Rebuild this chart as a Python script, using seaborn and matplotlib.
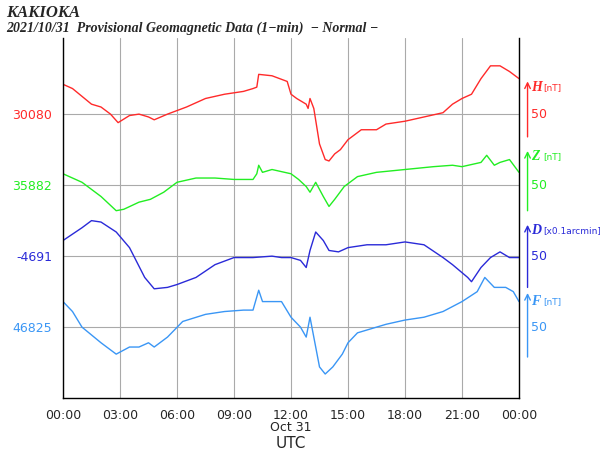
import numpy as np
import pandas as pd
import matplotlib
matplotlib.use('Agg')
import matplotlib.pyplot as plt
import seaborn as sns

# deviations from each trace's baseline (display units, 50 per grid step)
h_t = [0,0.5,1.5,2,2.5,2.9,3.5,4,4.5,4.8,5.5,6.5,7.5,8.5,9.5,10,10.2,10.3,11,11.8,12,12.3,12.8,12.9,13,13.2,13.5,13.8,14,14.3,14.6,15,15.7,16.5,17,18,19,20,20.5,21,21.5,22,22.5,23,23.5,24]
h_v = [21,18,7,5,0,-6,-1,0,-2,-4,0,5,11,14,16,18,19,28,27,23,14,11,7,4,11,4,-21,-32,-33,-28,-25,-18,-11,-11,-7,-5,-2,1,7,11,14,25,34,34,30,25]
z_t = [0,1,2,2.8,3.2,4,4.6,5.3,6,7,8,9,10,10.2,10.3,10.5,11,12,12.4,12.8,13,13.3,13.7,14,14.3,14.8,15.5,16.5,18,19.5,20.5,21,22,22.3,22.7,23,23.5,24]
z_v = [8,2,-8,-18,-17,-12,-10,-5,2,5,5,4,4,8,14,9,11,8,4,-1,-5,2,-8,-15,-10,-1,6,9,11,13,14,13,16,21,14,16,18,9]
d_t = [0,1,1.5,2,2.8,3.5,4.3,4.8,5.5,6,7,8,9,10,11,11.5,12,12.5,12.8,13,13.3,13.7,14,14.5,15,16,17,18,19,20,20.5,21.3,21.5,22,22.5,23,23.5,24]
d_v = [11,20,25,24,17,6,-15,-23,-22,-20,-15,-6,-1,-1,0,-1,-1,-3,-8,4,17,11,4,3,6,8,8,10,8,-1,-6,-15,-18,-8,-1,3,-1,-1]
f_t = [0,0.5,1,2,2.8,3.5,4,4.5,4.8,5.5,6.3,7.5,8.5,9.5,10,10.3,10.5,11.5,12,12.5,12.8,13,13.2,13.5,13.8,14.2,14.7,15,15.5,16.5,17,18,19,20,21,21.8,22.2,22.7,23.3,23.7,24]
f_v = [18,11,0,-11,-19,-14,-14,-11,-14,-7,4,9,11,12,12,26,18,18,7,0,-7,7,-7,-28,-33,-28,-19,-11,-4,0,2,5,7,11,18,25,35,28,28,25,18]

comps = ['H', 'Z', 'D', 'F']
base_labels = ['30080', '35882', '-4691', '46825']
units = ['[nT]', '[nT]', '[x0.1arcmin]', '[nT]']
colors = ['#ff2a2a', '#22ee22', '#2a2ad8', '#3a96f5']
offsets = [200, 150, 100, 50]
series = [(h_t, h_v), (z_t, z_v), (d_t, d_v), (f_t, f_v)]
xticks = [0, 3, 6, 9, 12, 15, 18, 21, 24]
xlabels = ['00:00', '03:00', '06:00', '09:00', '12:00', '15:00', '18:00', '21:00', '00:00']

serif = ['Liberation Serif', 'DejaVu Serif']

sns.set_style('white')
fig = plt.figure(figsize=(6, 4.54), dpi=100)
ax = fig.add_axes([0.105, 0.123, 0.76, 0.793])

for (t, v), off, c in zip(series, offsets, colors):
    df = pd.DataFrame({'t': t, 'v': np.array(v) + off})
    sns.lineplot(data=df, x='t', y='v', color=c, lw=1, ax=ax)

ax.set_xlim(0, 24)
ax.set_ylim(0, 253.5)
ax.set_xticks(xticks)
ax.set_xticklabels(xlabels, fontsize=9)
ax.set_yticks(offsets)
ax.set_yticklabels(base_labels, fontsize=9)
for lab, c in zip(ax.get_yticklabels(), colors):
    lab.set_color(c)
ax.tick_params(axis='both', length=4, direction='out', width=0.8)
ax.tick_params(axis='y', length=0, pad=8)
ax.grid(True, color='#aaaaaa', lw=0.8)
ax.spines['top'].set_visible(False)
for s in ['left', 'right', 'bottom']:
    ax.spines[s].set_color('black')
    ax.spines[s].set_linewidth(1)
ax.set_xlabel('')
ax.set_ylabel('')

ax.text(12, -21, 'Oct 31', ha='center', va='center', fontsize=9)
ax.text(12, -32, 'UTC', ha='center', va='center', fontsize=11)

# right-hand scale arrows
arrows = [(182, 225), (130, 176), (76, 124), (27, 76)]
lab_y = [219, 170, 118, 68]
for (a0, a1), ly, off, comp, u, c in zip(arrows, lab_y, offsets, comps, units, colors):
    ax.annotate('', xy=(24.45, a1), xytext=(24.45, a0), annotation_clip=False,
                arrowprops=dict(arrowstyle='->', color=c, lw=1))
    ax.text(24.65, ly, comp, color=c, fontsize=10, family=serif,
            style='italic', weight='bold', va='center')
    ax.text(25.25, ly, u, color=c, fontsize=6.5, va='center')
    ax.text(24.65, off, '50', color=c, fontsize=9, va='center')

fig.text(0.01, 0.99, 'KAKIOKA', fontsize=12, family=serif,
         style='italic', weight='bold', va='top')
fig.text(0.01, 0.953, '2021/10/31  Provisional Geomagnetic Data (1\u2212min)  \u2212 Normal \u2212',
         fontsize=10, family=serif, style='italic', weight='bold', va='top')

fig.savefig('out.png', dpi=100)
